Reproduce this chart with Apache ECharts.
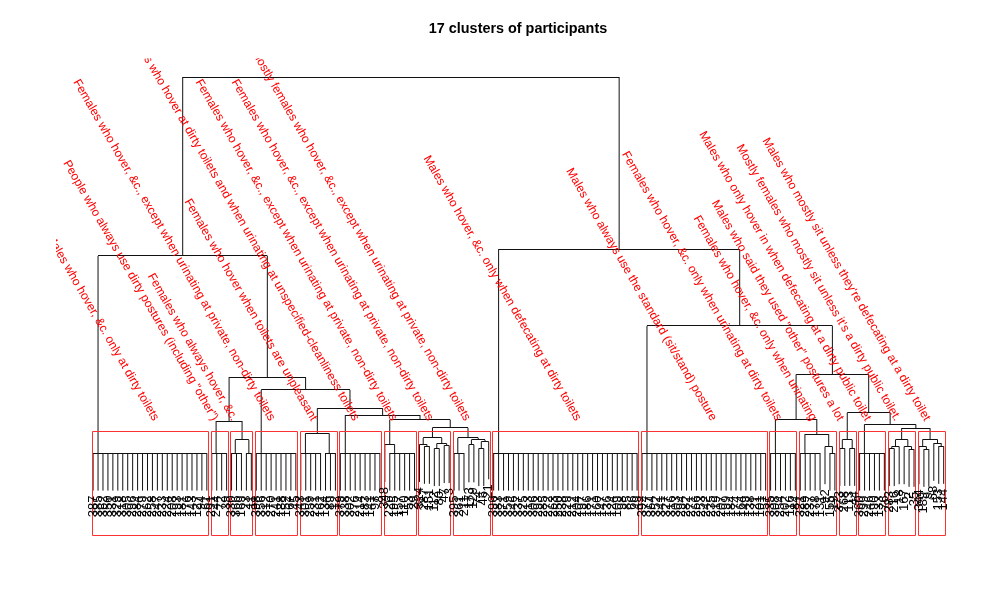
<!DOCTYPE html>
<html><head><meta charset="utf-8">
<script src="https://cdn.jsdelivr.net/npm/echarts@6/dist/echarts.min.js"></script>
<style>html,body{margin:0;padding:0;background:#fff}#chart{width:1008px;height:612px}</style>
</head><body><div id="chart"></div>
<script>
// ---------------- data ----------------
const TITLE = '17 clusters of participants';

const CLUSTER_NAMES = [
  'Males who hover, &c. only at dirty toilets',
  'People who always use dirty postures (including "other")',
  'Females who always hover, &c.',
  'Females who hover, &c., except when urinating at private, non-dirty toilets',
  'Females who hover when toilets are unpleasant',
  'Females who hover at dirty toilets and when urinating at unspecified-cleanliness toilets',
  'Females who hover, &c., except when urinating at private, non-dirty toilets',
  'Females who hover, &c., except when urinating at private, non-dirty toilets',
  'Mostly females who hover, &c., except when urinating at private, non-dirty toilets',
  'Males who hover, &c. only when defecating at dirty toilets',
  'Males who always use the standard (sit/stand) posture',
  'Females who hover, &c. only when urinating at dirty toilets',
  'Females who hover, &c. only when urinating',
  'Males who said they used "other" postures a lot',
  'Males who only hover in when defecating at a dirty public toilet',
  'Mostly females who mostly sit unless it\'s a dirty public toilet.',
  'Males who mostly sit unless they\'re defecating at a dirty toilet'
];

// Within-cluster trees: a number k = k participants joined at height 0; [height, left, right] = merge
const CLUSTER_TREES = [
  24,
  4,
  [0.035, 3, 2],
  9,
  [0.052, 5, 3],
  9,
  [0.023, 1, 6],
  [0.04, [0.023, 1, [0.018, 1, 1]], [0.025, [0.012, 1, 1], [0.02, 1, 1]]],
  [0.04, 3, [0.035, [0.022, 1, 1], [0.03, [0.012, 1, 1], 1]]],
  30,
  26,
  6,
  [0.05, 5, [0.017, 1, 2]],
  [0.035, [0.0125, 1, 1], [0.0125, 1, 1]],
  6,
  [0.035, [0.017, [0.012, 1, 1], 1], [0.017, 1, [0.01, 1, 1]]],
  [0.036, [0.017, 1, [0.01, 1, 1]], [0.026, 1, [0.018, 1, 1]]]
];

// Merges between clusters (hclust style): negative = cluster number, positive = earlier merge row
const UPPER_LEFT   = [-2, -8, -7, -6, -5, -4, 1, -1, -16, -15, -14, -12, 12, -11, -10, 8];
const UPPER_RIGHT  = [-3, -9,  2,  3,  4,  5, 6,  7, -17,   9,  10, -13, 11,  13,  14, 15];
const UPPER_HEIGHT = [0.085, 0.067, 0.088, 0.101, 0.119, 0.168, 0.202, 0.524,
                      0.066, 0.076, 0.107, 0.090, 0.209, 0.338, 0.542, 1.0];

const LEAF_LABELS = [
  387,385,362,350,331,329,318,305,296,284,279,262,258,247,233,224,208,193,181,176,143,127,94,61,
  291,244,72,39,
  330,366,169,23,11,
  398,356,312,270,241,188,152,67,45,
  343,301,259,231,162,134,89,12,
  379,338,302,276,214,183,141,97,8,
  348,226,195,157,110,53,29,
  324,287,151,112,80,47,3,
  395,261,211,173,129,74,46,21,
  396,383,371,359,346,337,325,313,306,293,285,272,263,250,238,229,212,204,197,186,171,160,147,136,124,109,98,85,66,49,
  392,377,364,352,341,327,316,303,294,282,271,266,253,242,235,219,207,199,184,174,164,149,138,121,101,57,
  335,308,254,202,116,84,
  321,289,237,178,131,92,155,19,
  373,268,113,44,
  360,299,246,190,133,76,
  283,216,18,167,2,35,
  344,189,9,68,153,144
];

const HANG = 0.1;          // leaf hang (fraction of height range)
const CUT_HEIGHT = 0.0585; // height where the tree is cut into 17 clusters
const RECT_BOTTOM = -0.22;

// label placement tweaks (leaf units), layout only
const NAME_SHIFT = [2.0, 0, -0.6, 0, 0, 0, -0.3, 0, 0, 3.4, 2.8, 0, 0, -0.5, 0, 0, 0];

// ---------------- layout ----------------
let leafCursor = 0;
const segments = [];   // [x1, h1, x2, h2]
const leaves = [];     // [x, endHeight, label]
const clusterRanges = [];

function expand(node) {
  if (typeof node === 'number') {
    if (node === 1) return 'leaf';
    return [0, 'leaf', expand(node - 1)];
  }
  return [node[0], expand(node[1]), expand(node[2])];
}
function layout(node) {
  if (node === 'leaf') {
    leafCursor += 1;
    const idx = leaves.length;
    leaves.push([leafCursor, 0, LEAF_LABELS[leafCursor - 1]]);
    return { x: leafCursor, h: 0, leafIdx: idx };
  }
  const a = layout(node[1]);
  const b = layout(node[2]);
  return join(a, b, node[0]);
}
function join(a, b, h) {
  segments.push([a.x, h, b.x, h]);
  [a, b].forEach(c => {
    let bottom = c.h;
    if (c.leafIdx !== undefined) { bottom = h - HANG; leaves[c.leafIdx][1] = bottom; }
    segments.push([c.x, h, c.x, bottom]);
  });
  return { x: (a.x + b.x) / 2, h: h };
}
function visit(ref) {
  if (ref < 0) {
    const ci = -ref - 1;
    const first = leafCursor + 1;
    const res = layout(expand(CLUSTER_TREES[ci]));
    clusterRanges[ci] = [first, leafCursor];
    return res;
  }
  const r = ref - 1;
  const a = visit(UPPER_LEFT[r]);
  const b = visit(UPPER_RIGHT[r]);
  return join(a, b, UPPER_HEIGHT[r]);
}
visit(UPPER_LEFT.length);

const rectData = clusterRanges.map(r => [r[0] - 0.34, r[1] + 0.33]);
const nameData = clusterRanges.map((r, i) => [(r[0] + r[1]) / 2 + NAME_SHIFT[i], i]);

// ---------------- chart ----------------
const chart = echarts.init(document.getElementById('chart'), null, { renderer: 'canvas' });
const FONT = '"Liberation Sans", Arial, Helvetica, sans-serif';
const crisp = v => Math.round(v - 0.5) + 0.5;

chart.setOption({
  animation: false,
  backgroundColor: '#fff',
  graphic: [{
    type: 'text', x: 518, y: 29,
    style: { text: TITLE, font: 'bold 14.4px ' + FONT, fill: '#000', align: 'center', verticalAlign: 'middle' }
  }],
  grid: { left: 56, top: 58.2, width: 905, height: 488.8 },
  xAxis: { type: 'value', min: -6.5, max: 176.5, show: false },
  yAxis: { type: 'value', min: -0.25, max: 1.05, show: false },
  series: [
    {
      type: 'custom', silent: true, clip: false,
      data: segments, encode: { x: [0, 2], y: [1, 3] },
      renderItem: (params, api) => {
        const p1 = api.coord([api.value(0), api.value(1)]);
        const p2 = api.coord([api.value(2), api.value(3)]);
        let y1 = p1[1], y2 = p2[1];
        if (Math.abs(y1 - y2) < 0.01) { y1 = y2 = crisp(y1); }
        return { type: 'line', shape: { x1: p1[0], y1: y1, x2: p2[0], y2: y2 },
                 style: { stroke: '#111', lineWidth: 1 } };
      }
    },
    {
      type: 'custom', silent: true, clip: false,
      data: rectData, encode: { x: [0, 1] },
      renderItem: (params, api) => {
        const p1 = api.coord([api.value(0), CUT_HEIGHT]);
        const p2 = api.coord([api.value(1), RECT_BOTTOM]);
        const x1 = Math.ceil(p1[0]) + 0.5, x2 = Math.floor(p2[0]) + 0.5;
        const y = crisp(p1[1]);
        return { type: 'rect', shape: { x: x1, y: y, width: x2 - x1, height: crisp(p2[1]) - y },
                 style: { stroke: '#ff3030', fill: null, lineWidth: 1 } };
      }
    },
    {
      type: 'custom', silent: true, clip: false,
      data: leaves.map(l => [l[0], l[1]]), encode: { x: 0, y: 1 },
      renderItem: (params, api) => {
        const p = api.coord([api.value(0), api.value(1)]);
        return { type: 'text', x: p[0], y: p[1] + 5, rotation: Math.PI / 2,
                 style: { text: String(leaves[params.dataIndex][2]), font: '13px ' + FONT,
                          fill: '#000', align: 'right', verticalAlign: 'middle' } };
      }
    },
    {
      type: 'custom', silent: true, clip: true,
      data: nameData, encode: { x: 0 },
      renderItem: (params, api) => {
        const p = api.coord([api.value(0), 0.088]);
        return { type: 'text', x: p[0] - 4, y: p[1], rotation: -Math.PI / 3,
                 style: { text: CLUSTER_NAMES[params.dataIndex], font: '12px ' + FONT,
                          fill: '#ff0000', align: 'right', verticalAlign: 'middle' } };
      }
    }
  ]
});
</script>
</body></html>
